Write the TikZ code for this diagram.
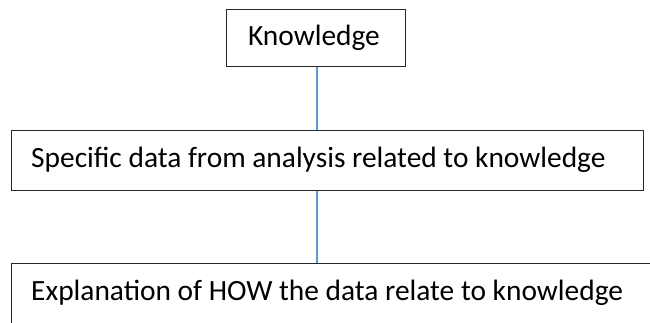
\documentclass[tikz,border=0pt]{standalone}
\usepackage{fontspec}
\setmainfont{Carlito}
\definecolor{conn}{RGB}{91,155,213}
\definecolor{boxline}{RGB}{40,40,40}
\begin{document}
\begin{tikzpicture}[x=1pt,y=-1pt,
  box/.style={draw=boxline,line width=1.3pt,fill=white},
  lbl/.style={font=\fontsize{29.4}{33}\selectfont,inner sep=0pt,anchor=west},
  link/.style={draw=conn,line width=1.4pt}]
\useasboundingbox (0,0) rectangle (650,322);
\node[box,minimum width=179pt,minimum height=57pt,anchor=north west] (k) at (226,9) {};
\node[lbl,anchor=center] (kt) at (314,38) {Knowledge};
\node[box,minimum width=632pt,minimum height=60pt,anchor=north west] (s) at (11,130) {};
\node[lbl] (st) at (31,160) {Specific data from analysis related to knowledge};
\node[box,minimum width=700pt,minimum height=60pt,anchor=north west] (e) at (11,263) {};
\node[lbl] (et) at (31,293) {Explanation of HOW the data relate to knowledge};
\coordinate (cx) at (317,0);
\draw[link] (cx |- k.south) -- (cx |- s.north);
\draw[link] (cx |- s.south) -- (cx |- e.north);
\end{tikzpicture}
\end{document}
